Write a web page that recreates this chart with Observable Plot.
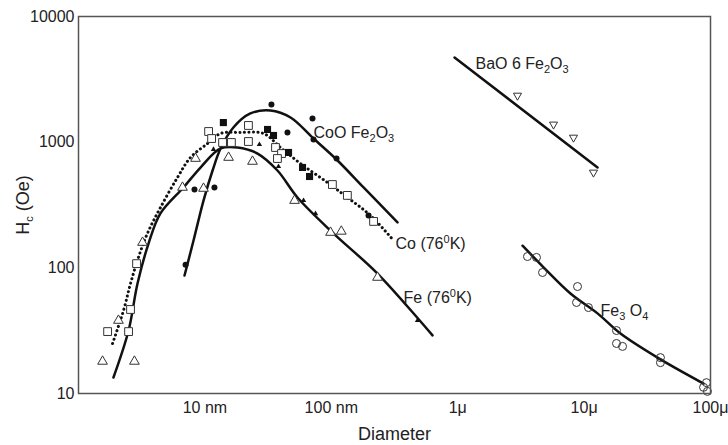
<!DOCTYPE html>
<html><head><meta charset="utf-8">
<script src="https://cdn.jsdelivr.net/npm/d3@7"></script>
<script src="https://cdn.jsdelivr.net/npm/@observablehq/plot@0.6"></script>
<style>body{margin:0;background:#fff} svg{display:block}</style>
</head><body><div id="chart"></div>
<script>
// Axis ticks
const xTicks = [10, 100, 1000, 10000, 100000];           // diameter in nm
const xTickLabels = ["10 nm", "100 nm", "1μ", "10μ", "100μ"];
const yTicks = [10, 100, 1000, 10000];

// Fitted curves [diameter (nm), Hc (Oe)]
const feCurve = [[1.89,13.4],[2.49,31.7],[2.93,75],[3.58,156],[4.45,271],[6.77,436],[9.23,628],[13.3,891],[18.1,907],[26.1,812],[37.5,595],[54,363],[104,188],[232,90],[632,29]];
const coCurve = [[1.86,25],[2.27,45.7],[2.58,75],[2.98,121],[3.51,188],[4.45,302],[6.07,524],[7.69,755],[10.5,976],[13.3,1172],[19.1,1194],[29.1,1172],[39.6,907],[57,676],[93,478],[134,363],[204,261],[311,165]];
const cooCurve = [[6.9,86.9],[8.13,165],[9.75,343],[11.5,595],[13.3,891],[16.8,1309],[22.9,1692],[33.0,1787],[47.6,1572],[72.3,1069],[110,728],[180,436],[334,230]];
const baoLine = [[944,4721],[12770,629]];
const fe3o4Curve = [[3258,150],[4777,101],[7800,62.5],[12770,43.4],[19400,30],[38100,19.3],[88100,12.0]];

// Measured points
const feOpenTriangles = [[1.55,18.0],[2.77,18.0],[2.07,38.1],[3.21,159],[6.65,436],[9.75,428],[8.43,741],[15.4,755],[23.8,702],[51.2,343],[98.6,191],[120,195],[232,83.8]];
const coOpenSquares = [[1.70,31.1],[2.49,31.1],[2.58,46.6],[2.88,108],[10.7,1216],[11.3,1069],[13.8,994],[16.2,994],[22.1,1358],[22.1,1012],[36.2,907],[40.4,812],[37.5,741],[102,460],[134,377],[216,234]];
const filledSquares = [[14.0,1432],[31.3,1262],[34.9,1130],[45.9,828],[59.2,629],[67.3,533]];
const filledCircles = [[7.03,106],[8.27,420],[11.9,436],[33.6,1995],[45.0,1194],[71.0,1542],[72.3,1050],[110,741],[197,261]];
const smallTriangles = [[11.7,875],[27.0,958],[38.2,640],[60.3,343],[75.0,270],[481,38.1]];
const baoTriangles = [[2972,2350],[5728,1384],[8245,1089],[11860,574]];
const fe3o4Circles = [[3565,123],[4200,121],[4690,91.8],[8870,71],[8710,53],[10830,48.3],[18040,31.7],[18040,25],[20140,23.7],[40180,19.3],[40180,17.6],[92900,12.2],[88100,11.2],[94600,10.4]];

// Curve labels (_ = subscript, ^ = superscript)
const labelText = ["CoO Fe_2O_3", "Co (76^0K)", "Fe (76^0K)", "BaO 6 Fe_2O_3", "Fe_3 O_4"];
const labelX = [72.3, 322, 373, 1383, 13490];
const labelY = [1190, 156, 58, 4227, 45.7];
const labels = labelText.map((t, i) => ({t, x: labelX[i], y: labelY[i]}));

const X = d => d[0], Y = d => d[1];
const ink = "#111";
const smooth = "catmull-rom";

const chart = Plot.plot({
  width: 728, height: 445,
  marginLeft: 78, marginRight: 18, marginTop: 16, marginBottom: 52,
  style: {fontFamily: "'Liberation Sans', Arial, sans-serif", fontSize: "16px", background: "#fff", color: "#222"},
  x: {type: "log", domain: [1, 1e5]},
  y: {type: "log", domain: [10, 1e4]},
  marks: [
    Plot.axisX({ticks: xTicks, tickFormat: d => xTickLabels[xTicks.indexOf(d)], tickSize: 0, tickPadding: 8,
      label: "Diameter", labelAnchor: "center", labelOffset: 46, labelArrow: "none"}),
    Plot.axisY({ticks: yTicks, tickFormat: d => String(d), tickSize: 0, tickPadding: 4,
      label: "H_c (Oe)", labelAnchor: "center", labelOffset: 62, labelArrow: "none"}),
    Plot.line(feCurve, {x: X, y: Y, curve: smooth, stroke: ink, strokeWidth: 2.5}),
    Plot.line(cooCurve, {x: X, y: Y, curve: smooth, stroke: ink, strokeWidth: 2.5}),
    Plot.line(coCurve, {x: X, y: Y, curve: smooth, stroke: ink, strokeWidth: 3, strokeDasharray: "0.1,4.4", strokeLinecap: "round"}),
    Plot.line(baoLine, {x: X, y: Y, stroke: ink, strokeWidth: 2.5}),
    Plot.line(fe3o4Curve, {x: X, y: Y, curve: smooth, stroke: ink, strokeWidth: 2.5}),
    Plot.dot(feOpenTriangles, {x: X, y: Y, symbol: "triangle", r: 3.6, fill: "white", stroke: "#333", strokeWidth: 1}),
    Plot.dot(coOpenSquares, {x: X, y: Y, symbol: "square", r: 4.4, fill: "white", stroke: "#333", strokeWidth: 1}),
    Plot.dot(filledSquares, {x: X, y: Y, symbol: "square", r: 4, fill: ink, stroke: "none"}),
    Plot.dot(filledCircles, {x: X, y: Y, symbol: "circle", r: 3, fill: ink, stroke: "none"}),
    Plot.dot(smallTriangles, {x: X, y: Y, symbol: "triangle", r: 2, fill: ink, stroke: "none"}),
    Plot.dot(baoTriangles, {x: X, y: Y, symbol: "triangle", r: 3, rotate: 180, fill: "white", stroke: "#333", strokeWidth: 1}),
    Plot.dot(fe3o4Circles, {x: X, y: Y, symbol: "circle", r: 4, fill: "none", stroke: "#333", strokeWidth: 1}),
    Plot.text(labels, {x: "x", y: "y", text: "t", textAnchor: "start", fontSize: 16, fill: "#222"}),
    Plot.frame({stroke: "#555", strokeWidth: 1.5})
  ]
});

// axis titles are a little larger than tick labels
chart.querySelectorAll('g[aria-label="x-axis label"] text, g[aria-label="y-axis label"] text')
  .forEach(t => t.setAttribute("font-size", "18px"));

// turn _x / ^x markup into real sub/superscript tspans
function richify(el) {
  const s = el.textContent;
  if (!/[_^]/.test(s)) return;
  el.textContent = "";
  const re = /([_^])(\w)|([^_^]+)/g;
  let m, shift = 0;
  while ((m = re.exec(s))) {
    const t = document.createElementNS("http://www.w3.org/2000/svg", "tspan");
    if (m[3] !== undefined) {
      t.textContent = m[3];
      if (shift) { t.setAttribute("dy", -shift); shift = 0; }
    } else {
      const d = m[1] === "_" ? 4 : -6;
      t.textContent = m[2];
      t.setAttribute("font-size", "11px");
      t.setAttribute("dy", d - shift);
      shift = d;
    }
    el.appendChild(t);
  }
}
chart.querySelectorAll("text").forEach(richify);
document.getElementById("chart").appendChild(chart);
</script>
</body></html>
